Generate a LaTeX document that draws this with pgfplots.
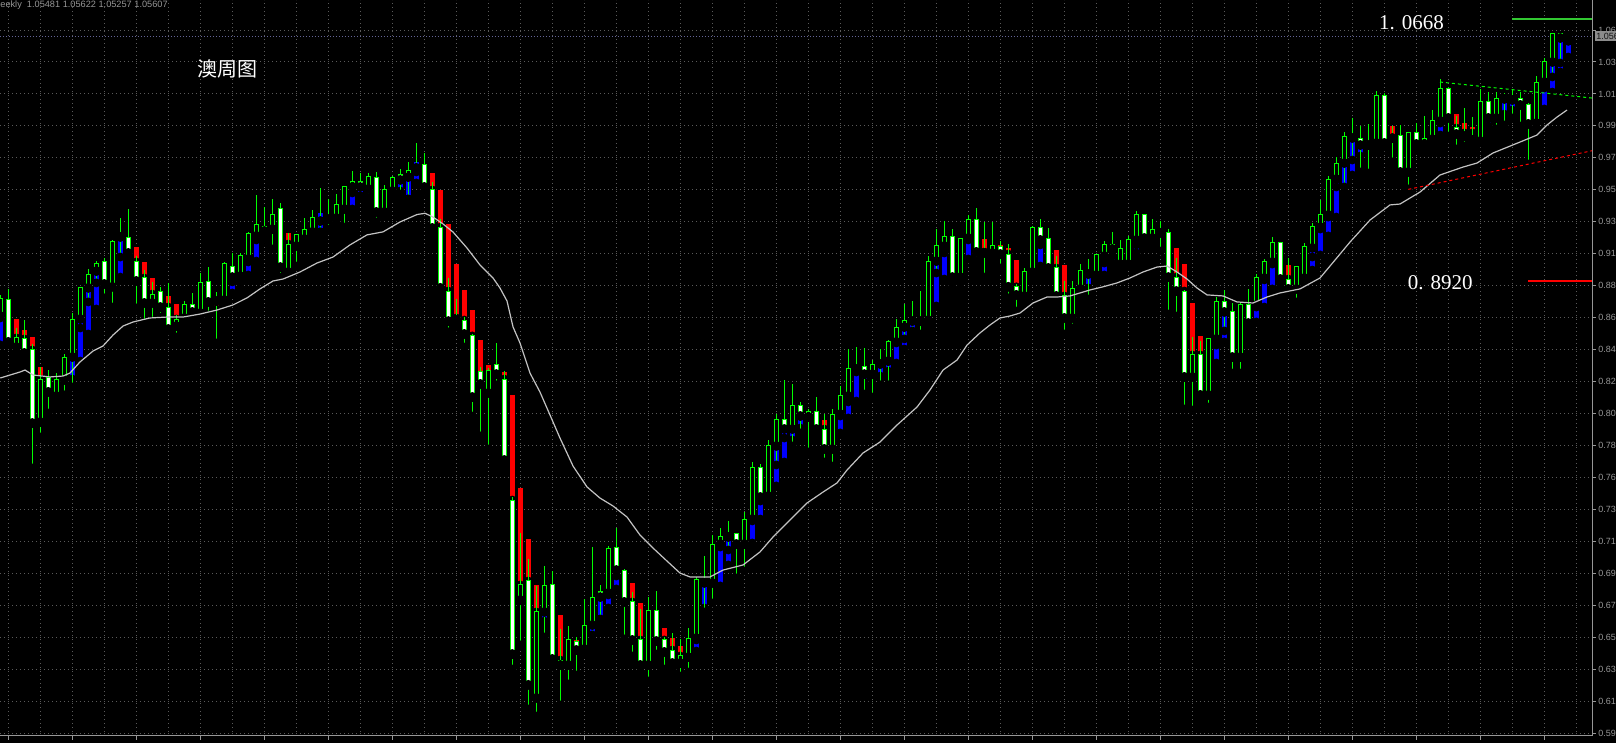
\documentclass[border=0pt]{standalone}
\usepackage{fontspec}
\setmainfont{Liberation Sans}
\newfontfamily\cjk{Noto Sans CJK SC}
\newfontfamily\numfont{Liberation Serif}
\usepackage{pgfplots}
\pgfplotsset{compat=1.18}
\usepackage{pgfplotstable}

\definecolor{mtgreen}{RGB}{0,255,0}
\definecolor{mtred}{RGB}{255,0,0}
\definecolor{mtblue}{RGB}{0,0,255}
\definecolor{gridc}{RGB}{90,90,90}
\definecolor{labc}{RGB}{150,150,150}
\definecolor{mac}{RGB}{195,195,195}
\definecolor{lvgreen}{RGB}{50,200,50}
\definecolor{pricec}{RGB}{100,100,150}
\definecolor{boxc}{RGB}{140,140,140}
\definecolor{boxtext}{RGB}{20,20,20}

% weekly candles: index, open, high, low, close
\pgfplotstableread{
i o h l c
0 0.8691 0.8832 0.8678 0.8805
1 0.8798 0.8872 0.8504 0.8518
2 0.8484 0.8611 0.8437 0.8545
3 0.8538 0.8664 0.8390 0.8444
4 0.8464 0.8504 0.7676 0.7976
5 0.7983 0.8350 0.7883 0.8270
6 0.8277 0.8330 0.8043 0.8184
7 0.8157 0.8310 0.8150 0.8264
8 0.8264 0.8437 0.8164 0.8417
9 0.8417 0.8711 0.8217 0.8671
10 0.8671 0.8886 0.8611 0.8879
11 0.8879 0.9005 0.8785 0.8971
12 0.8991 0.9058 0.8912 0.9045
13 0.9058 0.9079 0.8812 0.8905
14 0.8886 0.9199 0.8751 0.9186
15 0.9219 0.9346 0.9085 0.9233
16 0.9213 0.9406 0.9085 0.9112
17 0.9052 0.9092 0.8745 0.8925
18 0.8945 0.8998 0.8644 0.8778
19 0.8778 0.8919 0.8657 0.8838
20 0.8852 0.8886 0.8684 0.8751
21 0.8751 0.8912 0.8591 0.8604
22 0.8624 0.8698 0.8551 0.8671
23 0.8678 0.8791 0.8657 0.8765
24 0.8771 0.8845 0.8698 0.8718
25 0.8711 0.8978 0.8684 0.8912
26 0.8919 0.9018 0.8698 0.8785
27 0.8812 0.8852 0.8511 0.8791
28 0.8798 0.9052 0.8778 0.9045
29 0.9025 0.9112 0.8919 0.8951
30 0.8958 0.9112 0.8912 0.9092
31 0.9072 0.9253 0.9052 0.9239
32 0.9226 0.9500 0.9199 0.9305
33 0.9292 0.9419 0.9219 0.9259
34 0.9272 0.9473 0.9139 0.9372
35 0.9406 0.9446 0.8951 0.9018
36 0.8985 0.9246 0.8978 0.9172
37 0.9159 0.9239 0.9025 0.9233
38 0.9206 0.9346 0.9159 0.9272
39 0.9253 0.9399 0.9206 0.9346
40 0.9325 0.9547 0.9253 0.9339
41 0.9339 0.9473 0.9272 0.9352
42 0.9346 0.9506 0.9332 0.9439
43 0.9406 0.9560 0.9285 0.9553
44 0.9553 0.9659 0.9513 0.9587
45 0.9587 0.9646 0.9493 0.9553
46 0.9540 0.9646 0.9480 0.9626
47 0.9613 0.9653 0.9319 0.9386
48 0.9386 0.9567 0.9366 0.9533
49 0.9526 0.9626 0.9486 0.9613
50 0.9633 0.9673 0.9506 0.9600
51 0.9619 0.9720 0.9473 0.9666
52 0.9680 0.9847 0.9653 0.9693
53 0.9706 0.9780 0.9520 0.9553
54 0.9533 0.9587 0.9272 0.9279
55 0.9285 0.9339 0.8858 0.8879
56 0.8858 0.8945 0.8585 0.8657
57 0.8671 0.8805 0.8617 0.8664
58 0.8664 0.8684 0.8484 0.8571
59 0.8558 0.8571 0.8023 0.8150
60 0.8323 0.8350 0.7890 0.8237
61 0.8177 0.8343 0.7803 0.8330
62 0.8364 0.8511 0.8231 0.8303
63 0.8270 0.8323 0.7696 0.7729
64 0.7462 0.7482 0.6333 0.6433
65 0.6794 0.7242 0.6494 0.6895
66 0.6921 0.7068 0.6066 0.6227
67 0.6140 0.6888 0.6019 0.6714
68 0.6714 0.7021 0.6547 0.6888
69 0.6895 0.6988 0.6346 0.6400
70 0.6393 0.6600 0.6093 0.6360
71 0.6360 0.6620 0.6233 0.6527
72 0.6520 0.6547 0.6293 0.6460
73 0.6467 0.6801 0.6447 0.6627
74 0.6627 0.7148 0.6561 0.6814
75 0.6848 0.6895 0.6667 0.6814
76 0.6841 0.7155 0.6828 0.7135
77 0.7142 0.7275 0.6954 0.6994
78 0.6994 0.7001 0.6534 0.6781
79 0.6781 0.6848 0.6420 0.6527
80 0.6527 0.6734 0.6346 0.6360
81 0.6360 0.6814 0.6253 0.6727
82 0.6727 0.6854 0.6433 0.6520
83 0.6527 0.6547 0.6333 0.6447
84 0.6460 0.6574 0.6333 0.6373
85 0.6373 0.6534 0.6286 0.6420
86 0.6413 0.6607 0.6313 0.6540
87 0.6540 0.6947 0.6527 0.6934
88 0.6908 0.7088 0.6714 0.6928
89 0.6908 0.7229 0.6774 0.7168
90 0.7168 0.7275 0.7148 0.7215
91 0.7215 0.7322 0.7128 0.7235
92 0.7235 0.7242 0.6941 0.7168
93 0.7168 0.7382 0.6988 0.7335
94 0.7335 0.7716 0.7322 0.7676
95 0.7676 0.7702 0.7455 0.7482
96 0.7489 0.7863 0.7449 0.7823
97 0.7823 0.8036 0.7696 0.8003
98 0.8003 0.8264 0.7876 0.7936
99 0.7936 0.8237 0.7823 0.8090
100 0.8090 0.8117 0.7910 0.8023
101 0.8016 0.8070 0.7783 0.8056
102 0.8056 0.8150 0.7890 0.7936
103 0.7936 0.8036 0.7716 0.7803
104 0.7803 0.8070 0.7689 0.8036
105 0.8036 0.8224 0.8023 0.8157
106 0.8157 0.8471 0.8117 0.8343
107 0.8337 0.8484 0.8317 0.8350
108 0.8357 0.8477 0.8170 0.8303
109 0.8303 0.8397 0.8150 0.8370
110 0.8370 0.8471 0.8231 0.8390
111 0.8390 0.8531 0.8231 0.8524
112 0.8518 0.8671 0.8511 0.8617
113 0.8617 0.8771 0.8538 0.8664
114 0.8657 0.8791 0.8591 0.8664
115 0.8657 0.8858 0.8571 0.8671
116 0.8664 0.9092 0.8651 0.9058
117 0.9058 0.9272 0.8978 0.9159
118 0.9159 0.9326 0.9112 0.9219
119 0.9219 0.9272 0.8905 0.8951
120 0.8951 0.9212 0.8912 0.9206
121 0.9212 0.9366 0.9199 0.9339
122 0.9339 0.9413 0.9058 0.9119
123 0.9112 0.9319 0.8951 0.9119
124 0.9112 0.9319 0.9085 0.9159
125 0.9152 0.9192 0.9012 0.9105
126 0.9105 0.9172 0.8812 0.8886
127 0.8886 0.8905 0.8724 0.8832
128 0.8825 0.9012 0.8818 0.8991
129 0.8985 0.9292 0.8938 0.9279
130 0.9279 0.9339 0.9166 0.9199
131 0.9206 0.9279 0.8978 0.9012
132 0.9012 0.9092 0.8798 0.8825
133 0.8825 0.8925 0.8571 0.8678
134 0.8678 0.8925 0.8611 0.8872
135 0.8872 0.9038 0.8825 0.8998
136 0.8998 0.9072 0.8805 0.8971
137 0.8965 0.9105 0.8951 0.9099
138 0.9092 0.9192 0.9045 0.9172
139 0.9172 0.9253 0.9092 0.9139
140 0.9038 0.9199 0.8991 0.9139
141 0.9038 0.9226 0.9032 0.9199
142 0.9199 0.9393 0.9166 0.9366
143 0.9366 0.9372 0.9186 0.9212
144 0.9212 0.9339 0.9152 0.9266
145 0.9266 0.9326 0.9125 0.9246
146 0.9246 0.9272 0.8704 0.8951
147 0.8951 0.9079 0.8691 0.8858
148 0.8858 0.8865 0.8070 0.8284
149 0.8284 0.8551 0.8063 0.8431
150 0.8431 0.8524 0.8150 0.8164
151 0.8164 0.8538 0.8083 0.8538
152 0.8538 0.8818 0.8497 0.8791
153 0.8791 0.8865 0.8591 0.8718
154 0.8718 0.8778 0.8310 0.8417
155 0.8417 0.8785 0.8310 0.8765
156 0.8765 0.8872 0.8598 0.8644
157 0.8765 0.8971 0.8751 0.8945
158 0.8945 0.9072 0.8932 0.9052
159 0.9052 0.9219 0.9038 0.9179
160 0.9179 0.9186 0.8905 0.8938
161 0.8938 0.9079 0.8838 0.8872
162 0.8872 0.9025 0.8785 0.9025
163 0.8945 0.9179 0.8886 0.9152
164 0.9146 0.9312 0.9085 0.9292
165 0.9285 0.9466 0.9272 0.9372
166 0.9366 0.9626 0.9352 0.9606
167 0.9606 0.9753 0.9553 0.9713
168 0.9713 0.9920 0.9553 0.9887
169 0.9880 1.0014 0.9733 0.9893
170 0.9880 0.9960 0.9653 0.9833
171 0.9833 0.9974 0.9646 0.9854
172 0.9847 1.0194 0.9833 1.0167
173 1.0161 1.0181 0.9820 0.9847
174 0.9893 0.9960 0.9720 0.9880
175 0.9900 0.9967 0.9606 0.9653
176 0.9653 0.9914 0.9540 0.9914
177 0.9920 0.9980 0.9807 0.9840
178 0.9840 1.0027 0.9827 0.9880
179 0.9873 1.0067 0.9867 1.0000
180 0.9994 1.0274 0.9980 1.0214
181 1.0214 1.0221 0.9893 1.0014
182 0.9947 1.0027 0.9807 0.9907
183 0.9907 1.0081 0.9827 0.9893
184 0.9893 1.0020 0.9833 0.9867
185 0.9860 1.0207 0.9847 1.0127
186 1.0127 1.0187 0.9960 1.0014
187 1.0014 1.0187 0.9940 1.0147
188 1.0141 1.0181 0.9967 1.0147
189 1.0134 1.0207 1.0014 1.0141
190 1.0147 1.0187 0.9960 1.0101
191 1.0101 1.0114 0.9706 0.9974
192 0.9980 1.0294 0.9947 1.0254
193 1.0254 1.0415 1.0214 1.0388
194 1.0388 1.0575 1.0288 1.0575
195 1.0575 1.0582 1.0381 1.0548
196 1.05481 1.05622 1.05257 1.05607
}\candles

% heikin-ashi bodies, bearish (red)
\pgfplotstableread{
i a b
2 0.8671 0.8545
3 0.8598 0.8538
4 0.8551 0.8464
5 0.8350 0.8270
17 0.9152 0.9052
18 0.9052 0.8945
19 0.8945 0.8838
20 0.8872 0.8852
21 0.8825 0.8751
22 0.8771 0.8671
27 0.8818 0.8738
36 0.9246 0.9172
54 0.9646 0.9533
55 0.9533 0.9285
56 0.9305 0.8858
57 0.9038 0.8678
58 0.8865 0.8664
59 0.8731 0.8558
60 0.8531 0.8197
61 0.8364 0.8164
63 0.8317 0.8270
64 0.8164 0.7462
65 0.7543 0.6895
66 0.7202 0.6921
67 0.6895 0.6714
70 0.6694 0.6393
72 0.6527 0.6453
79 0.6908 0.6781
80 0.6774 0.6527
83 0.6607 0.6527
84 0.6540 0.6460
85 0.6487 0.6420
103 0.7996 0.7936
123 0.9206 0.9119
125 0.9166 0.9132
126 0.9146 0.9105
127 0.9065 0.8886
132 0.9132 0.9012
133 0.9032 0.8825
134 0.8892 0.8872
145 0.9246 0.9240
147 0.9146 0.8951
148 0.9038 0.8858
149 0.8778 0.8431
150 0.8558 0.8431
161 0.9032 0.8938
174 0.9960 0.9854
182 1.0040 0.9947
183 0.9980 0.9914
184 0.9954 0.9914
191 1.0114 1.0101
}\hared

% heikin-ashi bodies, bullish (blue)
\pgfplotstableread{
i a b
0 0.8691 0.8498
8 0.8264 0.8217
9 0.8417 0.8270
10 0.8671 0.8390
11 0.8879 0.8571
12 0.8991 0.8738
13 0.8905 0.8872
15 0.9219 0.8951
16 0.9112 0.9085
26 0.8785 0.8778
28 0.8798 0.8778
29 0.8951 0.8845
30 0.8958 0.8912
31 0.9072 0.8965
32 0.9226 0.9058
33 0.9259 0.9186
34 0.9272 0.9239
38 0.9206 0.9159
39 0.9253 0.9206
40 0.9379 0.9253
41 0.9352 0.9319
42 0.9346 0.9332
43 0.9406 0.9366
44 0.9553 0.9406
45 0.9553 0.9493
49 0.9526 0.9493
50 0.9600 0.9526
51 0.9619 0.9473
52 0.9720 0.9580
62 0.8303 0.8257
68 0.6714 0.6653
74 0.6627 0.6527
75 0.6814 0.6667
76 0.6841 0.6741
77 0.6994 0.6868
87 0.6540 0.6453
88 0.6908 0.6741
90 0.7168 0.6888
91 0.7215 0.7028
92 0.7168 0.7121
93 0.7168 0.7135
94 0.7335 0.7175
95 0.7482 0.7335
96 0.7489 0.7455
97 0.7823 0.7556
98 0.7936 0.7716
99 0.7936 0.7863
100 0.8023 0.7943
105 0.8036 0.7910
106 0.8157 0.8010
107 0.8337 0.8123
108 0.8303 0.8250
109 0.8303 0.8283
110 0.8370 0.8290
111 0.8390 0.8323
112 0.8518 0.8377
113 0.8617 0.8471
114 0.8678 0.8558
115 0.8684 0.8617
116 0.8664 0.8651
117 0.9058 0.8758
118 0.9159 0.8938
121 0.9212 0.9072
129 0.8985 0.8925
130 0.9199 0.9025
135 0.8872 0.8825
136 0.8971 0.8879
137 0.8965 0.8919
138 0.9092 0.8965
139 0.9139 0.9045
142 0.9199 0.9112
143 0.9212 0.9186
152 0.8538 0.8377
153 0.8718 0.8518
156 0.8644 0.8578
157 0.8765 0.8651
158 0.8945 0.8751
159 0.9052 0.8872
164 0.9146 0.8998
165 0.9285 0.9099
166 0.9366 0.9226
167 0.9606 0.9352
168 0.9713 0.9513
169 0.9880 0.9633
170 0.9833 0.9760
171 0.9833 0.9793
172 0.9847 0.9807
177 0.9840 0.9807
179 0.9873 0.9860
180 0.9994 0.9900
186 1.0014 0.9960
188 1.0141 1.0040
189 1.0134 1.0067
193 1.0254 1.0074
194 1.0388 1.0187
195 1.0548 1.0321
196 1.0548 1.0421
}\hablue

\pgfplotsset{
  vbar/.style 2 args={only marks, mark=none, forget plot,
    error bars/.cd, y dir=plus, y explicit, error mark=none,
    error bar style={line width=#1, color=#2}},
}

\begin{document}
\begin{tikzpicture}
\useasboundingbox[fill=black] (0,0) rectangle (808pt,371.5pt);
\begin{axis}[
  at={(0pt,3.5pt)}, anchor=south west,
  scale only axis, width=796pt, height=368pt,
  xmin=-0.0375, xmax=198.9625, ymin=0.58856, ymax=1.0802,
  axis x line*=bottom, axis y line*=right,
  axis line style={labc, line width=0.5pt},
  xtick={1,9,...,193}, minor xtick={5,13,...,197},
  xticklabels={22 Jul 2007,16 Sep 2007,11 Nov 2007,6 Jan 2008,2 Mar 2008,27 Apr 2008,22 Jun 2008,17 Aug 2008,12 Oct 2008,7 Dec 2008,1 Feb 2009,29 Mar 2009,24 May 2009,19 Jul 2009,13 Sep 2009,8 Nov 2009,3 Jan 2010,28 Feb 2010,25 Apr 2010,20 Jun 2010,15 Aug 2010,10 Oct 2010,5 Dec 2010,30 Jan 2011,27 Mar 2011},
  ytick={0.59056,0.61190,0.63324,0.65459,0.67593,0.69728,0.71862,0.73996,0.76131,0.78265,0.80400,0.82534,0.84668,0.86803,0.88937,0.91072,0.93206,0.95340,0.97475,0.99609,1.01744,1.03878,1.06012},
  yticklabels={0.59,0.61,0.63,0.65,0.67,0.69,0.71,0.73,0.76,0.78,0.80,0.82,0.84,0.86,0.88,0.91,0.93,0.95,0.97,0.99,1.01,1.03,1.06},
  grid=both,
  major grid style={gridc, line width=0.5pt, dash pattern=on 0.5pt off 1.5pt},
  minor grid style={gridc, line width=0.5pt, dash pattern=on 0.5pt off 1.5pt},
  tick align=outside, major tick length=2pt, minor tick length=0pt,
  tick style={labc, line width=0.5pt},
  ticklabel style={font=\fontsize{4.5}{5}\selectfont, text=labc, inner sep=0pt},
  yticklabel style={anchor=west, xshift=1pt},
  xticklabel style={anchor=north west, yshift=-2.3pt},
  clip mode=individual,
]
% current price line
\addplot[pricec, line width=0.5pt, dash pattern=on 0.5pt off 1pt, mark=none, forget plot]
  coordinates {(-0.04,1.05607) (198.96,1.05607)};

% heikin-ashi bodies behind the candles
\addplot[vbar={2.5pt}{mtred}] table[x=i, y expr={min(\thisrow{a},\thisrow{b})}, y error plus expr={abs(\thisrow{a}-\thisrow{b})}] {\hared};
\addplot[vbar={2.5pt}{mtblue}] table[x=i, y expr={min(\thisrow{a},\thisrow{b})}, y error plus expr={abs(\thisrow{a}-\thisrow{b})}] {\hablue};

% candle wicks and bodies
\addplot[vbar={0.5pt}{mtgreen}] table[x=i, y=l, y error plus expr={\thisrow{h}-\thisrow{l}}] {\candles};
\addplot[vbar={2.5pt}{mtgreen}] table[x=i, y expr={min(\thisrow{o},\thisrow{c})-0.000334}, y error plus expr={abs(\thisrow{c}-\thisrow{o})+0.000668}] {\candles};
\addplot[restrict expr to domain={\thisrow{c}-\thisrow{o}}{0:1}, vbar={1.5pt}{black}] table[x=i, y expr={min(\thisrow{o},\thisrow{c})+0.000334}, y error plus expr={max(0,abs(\thisrow{c}-\thisrow{o})-0.000668)}] {\candles};
\addplot[restrict expr to domain={\thisrow{o}-\thisrow{c}}{0.00001:1}, vbar={1.5pt}{white}] table[x=i, y expr={min(\thisrow{o},\thisrow{c})+0.000334}, y error plus expr={max(0,abs(\thisrow{c}-\thisrow{o})-0.000668)}] {\candles};

% moving average
\addplot[mac, line width=0.6pt, mark=none] coordinates {
(0,0.8277) (2.46,0.8317) (3.09,0.8330) (4.09,0.8297) (6.21,0.8284) (7.84,0.8290) (8.71,0.8310) (9.96,0.8384) (11.59,0.8457) (12.84,0.8491) (14.09,0.8564) (15.34,0.8624) (16.59,0.8651) (18.71,0.8678) (20.84,0.8684) (22.84,0.8684) (24.96,0.8704) (27.09,0.8731) (29.09,0.8765) (30.84,0.8812) (32.46,0.8872) (34.09,0.8925) (35.34,0.8938) (37.46,0.8985) (39.59,0.9045) (41.59,0.9085) (43.71,0.9166) (45.84,0.9233) (47.84,0.9253) (49.96,0.9319) (52.09,0.9369) (53.09,0.9377) (54.09,0.9352) (55.34,0.9306) (56.59,0.9252) (58.34,0.9145) (59.96,0.9032) (61.59,0.8945) (62.46,0.8878) (63.34,0.8791) (64.09,0.8618) (64.96,0.8511) (66.21,0.8310) (67.46,0.8183) (68.71,0.8030) (69.96,0.7876) (71.59,0.7689) (73.34,0.7549) (74.96,0.7475) (76.59,0.7422) (78.34,0.7348) (79.96,0.7228) (81.59,0.7141) (83.34,0.7054) (84.96,0.6974) (86.21,0.6948) (87.46,0.6948) (88.71,0.6948) (90.34,0.6994) (92.84,0.7028) (94.96,0.7115) (96.59,0.7215) (98.71,0.7328) (100.84,0.7442) (102.84,0.7515) (104.59,0.7576) (105.84,0.7662) (107.84,0.7776) (109.96,0.7849) (112.09,0.7963) (114.59,0.8083) (116.21,0.8197) (117.84,0.8330) (119.59,0.8397) (120.84,0.8497) (122.46,0.8578) (123.71,0.8631) (124.96,0.8678) (126.21,0.8691) (127.46,0.8711) (129.09,0.8778) (130.84,0.8818) (132.09,0.8818) (133.71,0.8825) (134.96,0.8845) (136.21,0.8865) (137.84,0.8886) (139.59,0.8912) (141.21,0.8945) (142.84,0.8985) (144.59,0.9018) (145.84,0.9025) (147.09,0.8985) (148.34,0.8938) (149.59,0.8878) (150.84,0.8832) (152.84,0.8825) (154.59,0.8785) (156.59,0.8778) (158.34,0.8818) (159.96,0.8845) (162.46,0.8872) (164.96,0.8945) (166.84,0.9065) (168.71,0.9185) (171.21,0.9332) (173.71,0.9433) (174.96,0.9439) (177.46,0.9519) (179.96,0.9633) (182.84,0.9686) (184.59,0.9713) (186.59,0.9780) (189.96,0.9853) (192.09,0.9900) (193.34,0.9967) (194.59,1.0020) (195.84,1.0067)
};

% trend lines
\addplot[mtgreen, line width=0.5pt, dash pattern=on 1.5pt off 1.5pt, mark=none] coordinates {(179.96,1.0254) (198.96,1.0147)};
\addplot[mtred, line width=0.5pt, dash pattern=on 1.5pt off 1.5pt, mark=none] coordinates {(176.0,0.9537) (198.96,0.9795)};

% level lines
\addplot[lvgreen, line width=1.1pt, mark=none] coordinates {(188.96,1.0675) (198.96,1.0675)};
\addplot[mtred, line width=1.2pt, mark=none] coordinates {(190.96,0.8925) (198.96,0.8925)};

% texts
\node[text=white, font=\cjk\fontsize{10}{12}\selectfont] at (axis cs:28.34,1.0344) {澳周图};
\node[text=white, font=\numfont\fontsize{10.5}{12}\selectfont] at (axis cs:176.4,1.0652) {1. 0668};
\node[text=white, font=\numfont\fontsize{10.5}{12}\selectfont] at (axis cs:180.0,0.8915) {0. 8920};
\node[anchor=west, text=labc, font=\fontsize{4.6}{5}\selectfont, inner sep=0pt] at (axis cs:-0.0375,1.0765) {eekly\ \ 1.05481 1.05622 1.05257 1.05607};

% current price box on the scale
\fill[boxc] (axis cs:199.34,1.0595) rectangle (axis cs:202.6,1.0528);
\node[anchor=west, text=boxtext, font=\fontsize{4.5}{5}\selectfont, inner sep=0pt] at (axis cs:199.45,1.05607) {1.05607};
\end{axis}
\end{tikzpicture}
\end{document}
